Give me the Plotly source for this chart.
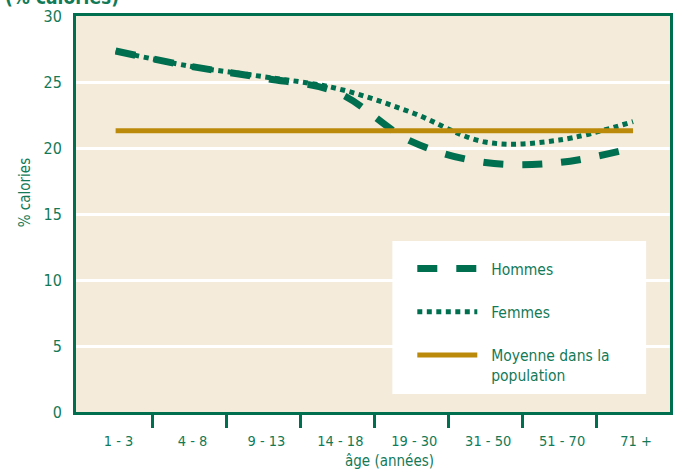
import plotly.graph_objects as go

# Age groups (x axis)
age_groups = ["1 - 3", "4 - 8", "9 - 13", "14 - 18", "19 - 30", "31 - 50", "51 - 70", "71 +"]

# Share of calories (%) by age group
hommes = [27.35, 26.2, 25.3, 24.2, 20.5, 18.9, 18.9, 20.0]
femmes = [27.35, 26.2, 25.4, 24.5, 22.7, 20.45, 20.6, 22.0]
moyenne_population = 21.3

y_ticks = [0, 5, 10, 15, 20, 25, 30]

GREEN = "#006F4F"
TEXT_GREEN = "#137A58"
GOLD = "#BC8A0B"
PANEL = "#F4EBDB"
FONT = "Liberation Sans Narrow, DejaVu Sans Condensed, Arial Narrow, sans-serif"
PAD = "\u00a0\u00a0"

x_pos = list(range(len(age_groups)))

fig = go.Figure()

fig.add_trace(go.Scatter(
    x=x_pos, y=hommes, name=PAD + "Hommes", mode="lines",
    line=dict(color=GREEN, width=7, dash="20px,19px", shape="spline", smoothing=1.0),
    legendgroup="h",
))
fig.add_trace(go.Scatter(
    x=x_pos, y=femmes, name=PAD + "Femmes", mode="lines",
    line=dict(color=GREEN, width=5, dash="5px,4.5px", shape="spline", smoothing=1.0),
    legendgroup="f",
))
fig.add_trace(go.Scatter(
    x=[x_pos[0], x_pos[-1]], y=[moyenne_population] * 2,
    name=PAD + "Moyenne dans la<br>" + PAD + "population", mode="lines",
    line=dict(color=GOLD, width=5),
    legendgroup="m",
))

fig.update_layout(
    width=675, height=470,
    margin=dict(l=76, r=2, t=16, b=58),
    paper_bgcolor="white",
    plot_bgcolor=PANEL,
    font=dict(family=FONT, color=TEXT_GREEN),
    showlegend=True,
    legend=dict(
        x=(414 - 76) / 597, xanchor="left",
        y=(412 - 252) / 396, yanchor="top",
        bgcolor="rgba(0,0,0,0)",
        font=dict(size=15.5, color=TEXT_GREEN, family=FONT),
        itemwidth=60,
        tracegroupgap=20,
        traceorder="grouped",
        valign="top",
    ),
    shapes=[dict(
        type="rect", xref="paper", yref="paper",
        x0=(394 - 76) / 597, x1=(649 - 76) / 597,
        y0=(412 - 394) / 396, y1=(412 - 241) / 396,
        fillcolor="white", line=dict(width=0), layer="between",
    )],
    annotations=[
        dict(text="<b>(% calories)</b>", xref="paper", yref="paper",
             x=(3 - 76) / 597, y=1, xanchor="left", yanchor="bottom", yshift=6,
             showarrow=False, font=dict(size=19, color=TEXT_GREEN, family=FONT)),
        dict(text="âge (années)", xref="paper", yref="paper",
             x=(391.5 - 76) / 597, y=(412 - 461) / 396, xanchor="center", yanchor="middle",
             showarrow=False, font=dict(size=15, color=TEXT_GREEN, family=FONT)),
        dict(text="% calories", xref="paper", yref="paper", textangle=-90,
             x=(25 - 76) / 597, y=(412 - 193) / 396, xanchor="center", yanchor="middle",
             showarrow=False, font=dict(size=15, color=TEXT_GREEN, family=FONT)),
    ],
)

fig.update_xaxes(
    range=[-0.536, 7.5],
    tickmode="array", tickvals=x_pos, ticktext=age_groups,
    ticks="", ticklabelstandoff=14, ticklabelshift=3,
    tickfont=dict(size=14.5, color=TEXT_GREEN),
    minor=dict(tickmode="array", tickvals=[i + 0.5 for i in x_pos[:-1]],
               ticks="outside", ticklen=13, tickwidth=3, tickcolor=GREEN, showgrid=False),
    showgrid=False, zeroline=False,
    showline=True, linecolor=GREEN, linewidth=3, mirror=True,
)
fig.update_yaxes(
    range=[0, 30],
    tickmode="array", tickvals=y_ticks,
    ticks="", ticklabelstandoff=8,
    tickfont=dict(size=16, color=TEXT_GREEN),
    showgrid=True, gridcolor="white", gridwidth=2.5,
    zeroline=False,
    showline=True, linecolor=GREEN, linewidth=3, mirror=True,
)

fig.write_html("out.html")
